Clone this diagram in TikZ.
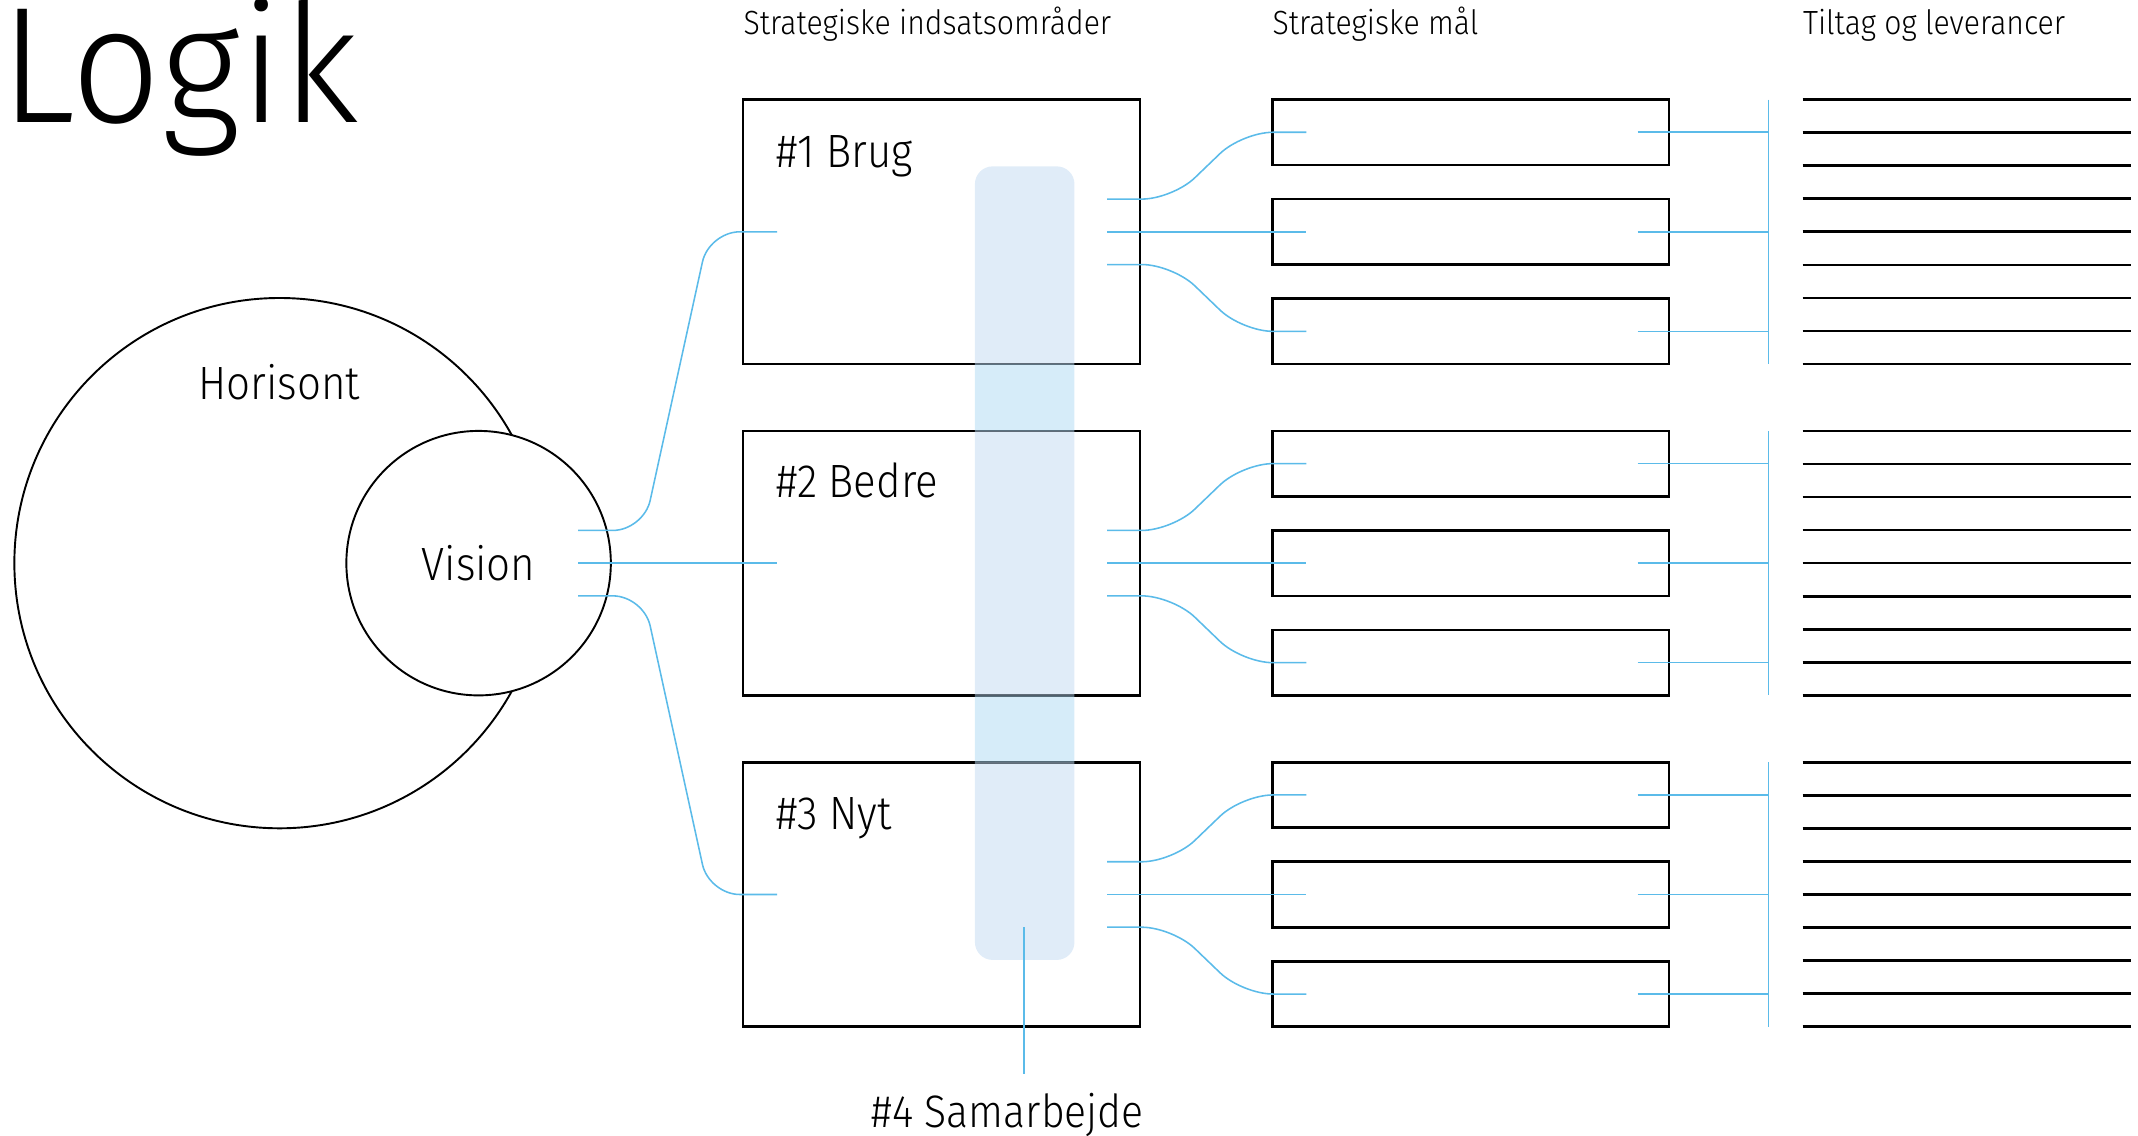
\documentclass[tikz,border=0pt]{standalone}
\usepackage{fontspec}
\setmainfont{Fira Sans}[UprightFont=* Light, FakeStretch=0.9]
\newfontfamily\titlefont{Fira Sans}[UprightFont=* Light, FakeStretch=0.95]
\usetikzlibrary{positioning}
\definecolor{linkblue}{HTML}{5BBBE9}
\definecolor{bandblue}{HTML}{ADD9F3}
\definecolor{bandpale}{HTML}{C1D9F1}

\begin{document}
\begin{tikzpicture}[x=0.02cm, y=-0.02cm,
  area/.style={draw, line width=1.1pt, minimum width=5.82cm, minimum height=3.88cm, inner sep=0pt},
  goal/.style={draw, line width=1.1pt, minimum width=5.82cm, minimum height=0.96cm, inner sep=0pt},
  link/.style={draw=linkblue, line width=0.65pt, rounded corners=0.45cm},
  heading/.style={anchor=base west, inner sep=0pt, font=\fontsize{14}{16}\selectfont},
  boxlabel/.style={anchor=base west, inner sep=0pt, font=\fontsize{19.5}{22}\selectfont},
  leverance/.style={line width=1.1pt}]
  \useasboundingbox (0,0) rectangle (1568,833);

  \node[anchor=base west, inner sep=0pt, font=\titlefont\fontsize{69}{72}\selectfont] (logik) at (0,90) {Logik}; % title
  \node[heading] (hindsats) at (545,25) {Strategiske indsatsområder};
  \node[heading] (hmaal) at (933,25) {Strategiske mål};
  \node[heading] (htiltag) at (1322,25) {Tiltag og leverancer};

  % horizon and vision
  \node[draw, circle, line width=0.8pt, minimum size=7.78cm, inner sep=0pt] (horisont) at (205,413) {};
  \node[anchor=base, inner sep=0pt, font=\fontsize{19.5}{22}\selectfont] (horisonttxt) at (205,293) {Horisont};
  \node[draw, circle, fill=white, line width=0.8pt, minimum size=3.88cm, inner sep=0pt,
        font=\fontsize{19.5}{22}\selectfont] (vision) at (351,413) {Vision};
    \coordinate (v1) at (424,389);
    \coordinate (v2) at (424,413);
    \coordinate (v3) at (424,437);

  % areas, goals and deliverables
  \foreach \n/\y in {1/170, 2/413, 3/656} {
    \node[area] (area\n) at (690.5,\y) {};
    \coordinate (ain\n) at (570,\y);
    \coordinate (bar\n) at (1297,\y);
    \foreach \k/\dy/\ey in {1/-24/-73, 2/0/0, 3/24/73} {
      \node[goal] (goal\n\k) at (1078.5,\y+\ey) {};
      \coordinate (out\n\k) at (812,\y+\dy);
      \coordinate (in\n\k) at (958,\y+\ey);
      \draw[link] ([xshift=-0.48cm]goal\n\k.east) -- (goal\n\k.east -| bar\n);
    }
    \draw[link] (out\n1) -- ++(48,0) -- ++(51,-49) -- (in\n1); % upper goal
    \draw[link] (out\n2) -- (in\n2);
    \draw[link] (out\n3) -- ++(48,0) -- ++(51,49) -- (in\n3); % lower goal
    \draw[link] (bar\n) ++(0,-97) -- ++(0,194); % bus
    \foreach \i in {0,...,8}
      \draw[leverance] (1322,\y-97+\i*24.25) -- (1563,\y-97+\i*24.25);
  }
  \node[boxlabel] (l1) at (569,123) {\#1 Brug};
  \node[boxlabel] (l2) at (569,365) {\#2 Bedre};
  \node[boxlabel] (l3) at (569,608) {\#3 Nyt};

  \draw[link] (v1) -- ++(48,0) -- ([xshift=-1cm]ain1) -- (ain1);
  \draw[link] (v2) -- (ain2);
  \draw[link] (v3) -- ++(48,0) -- ([xshift=-1cm]ain3) -- (ain3);

  % cross-cutting band
  \begin{scope}
    \clip (700,267) rectangle (800,316) (700,510) rectangle (800,559);
    \fill[bandblue, opacity=0.5, rounded corners=0.26cm] (715,122) rectangle (788,704);
  \end{scope}
  \begin{scope}
    \clip (700,100) rectangle (800,267) (700,316) rectangle (800,510) (700,559) rectangle (800,720);
    \fill[bandpale, opacity=0.5, rounded corners=0.26cm] (715,122) rectangle (788,704);
  \end{scope}
  \node[boxlabel, anchor=base, font=\fontsize{19}{22}\selectfont] (samarbejde) at (739,827) {\#4 Samarbejde};
    \coordinate (bandfoot) at (751,680);
    \coordinate (samtop) at (751,788);
  \draw[link] (bandfoot) -- (samtop);
\end{tikzpicture}
\end{document}
